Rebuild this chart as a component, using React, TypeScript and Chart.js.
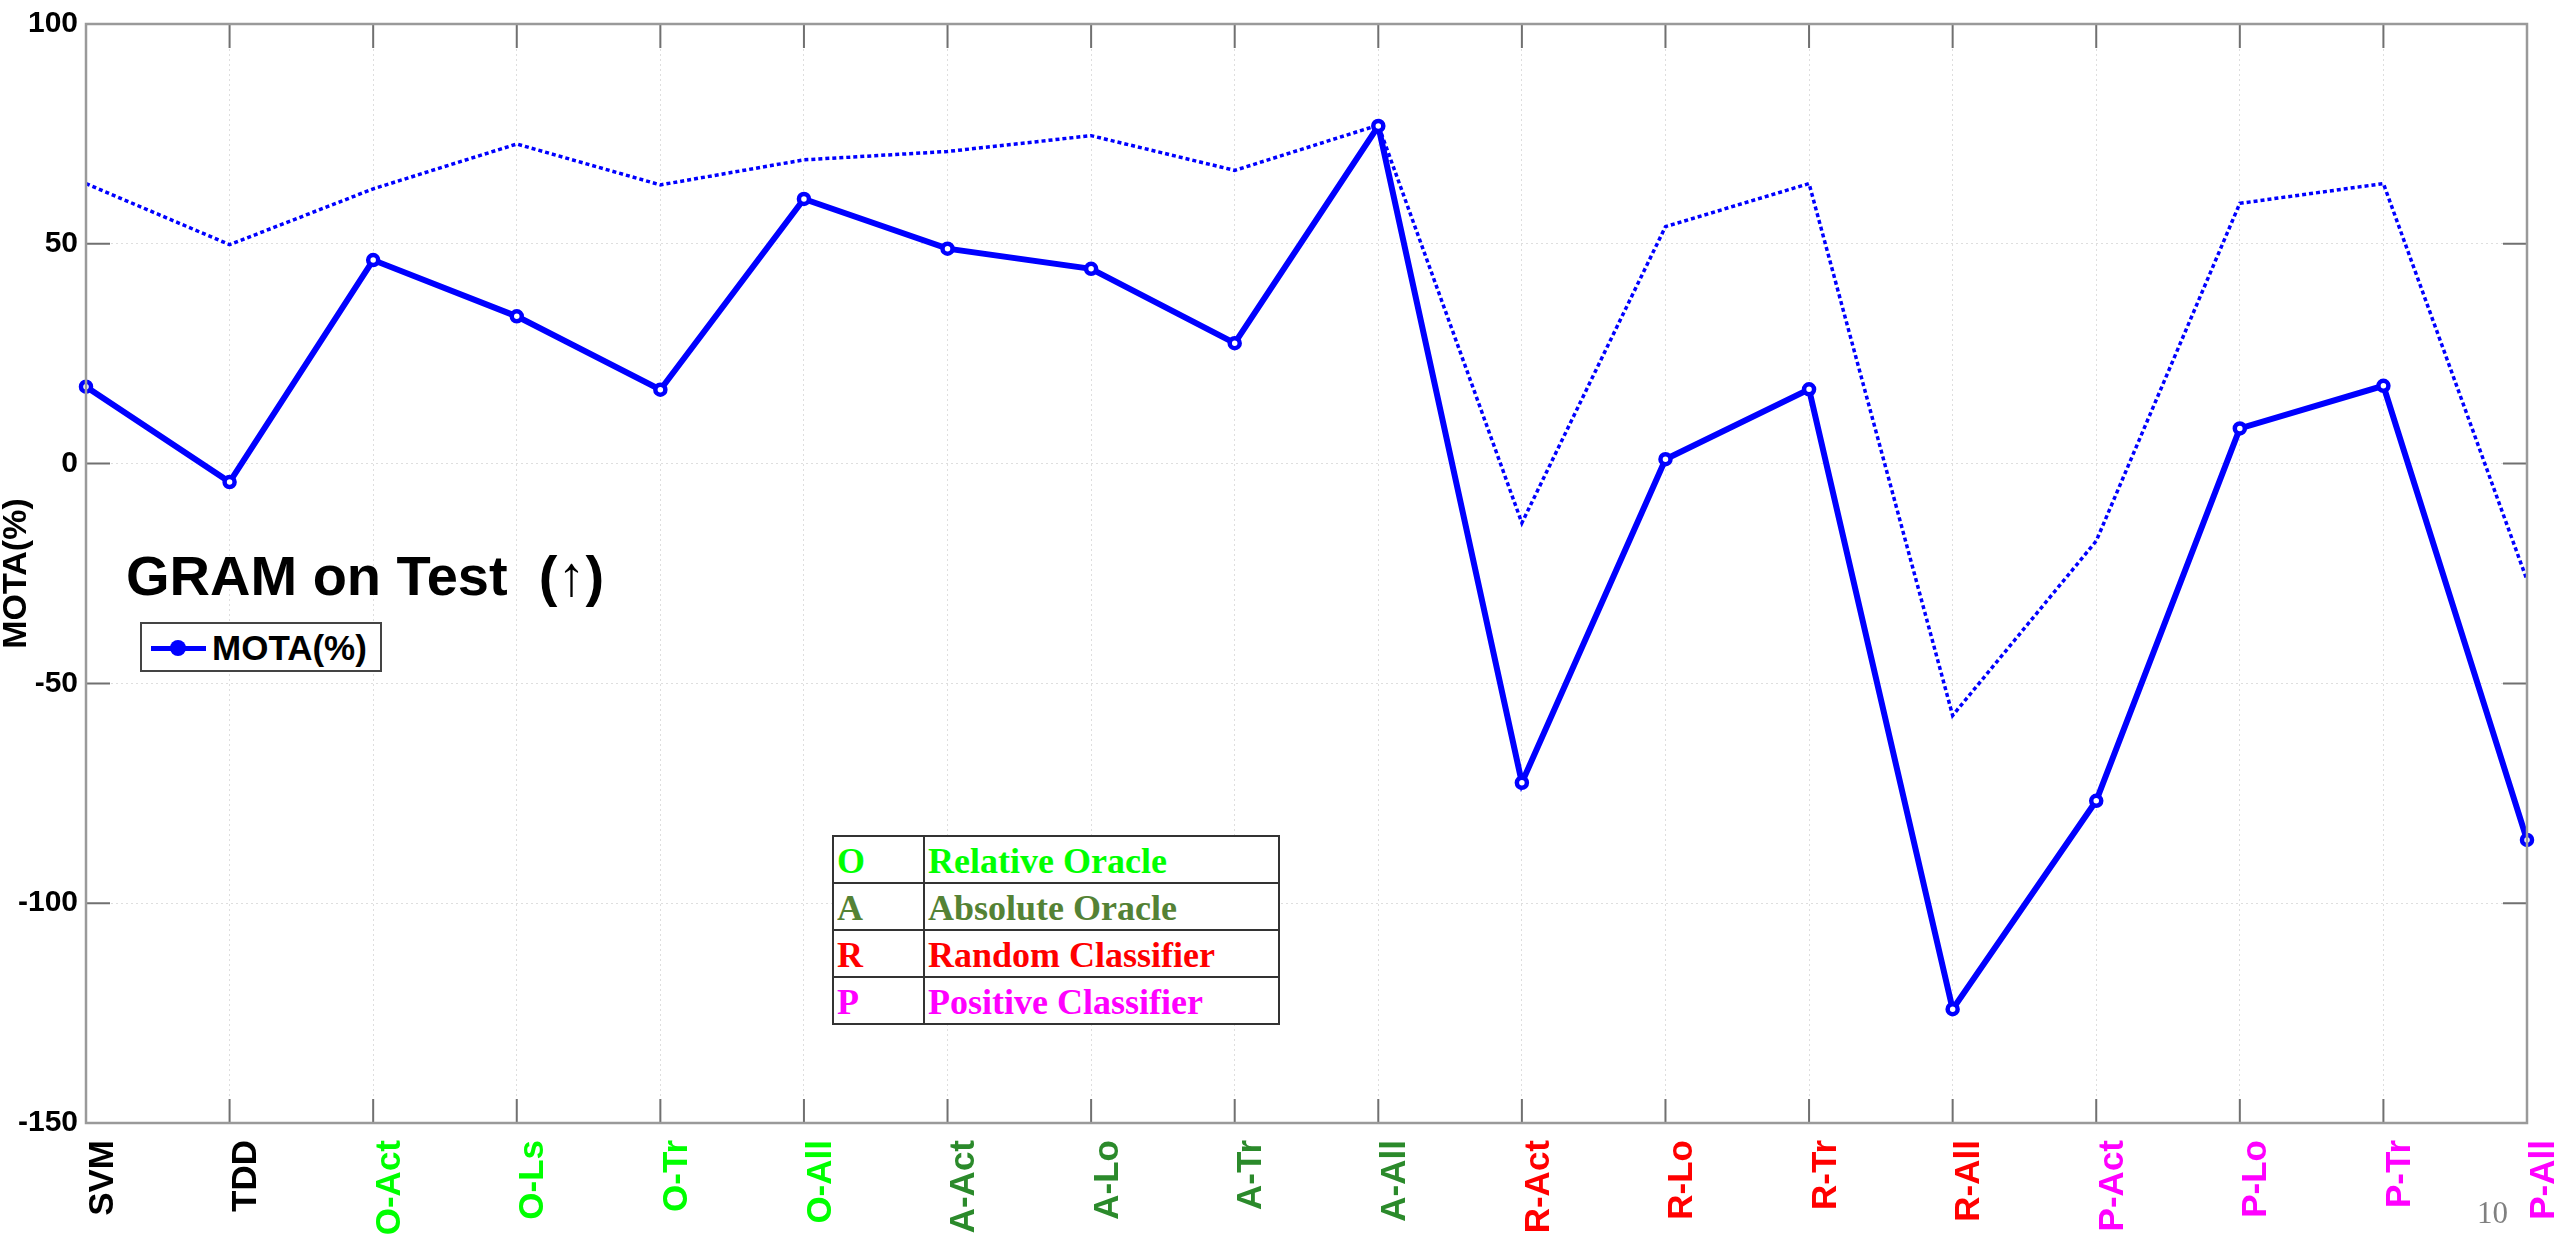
import React, { useEffect, useRef } from 'react';
import { Chart, registerables } from 'chart.js';

Chart.register(...registerables);

// ---------- data ----------
const categories = ['SVM', 'TDD', 'O-Act', 'O-Ls', 'O-Tr', 'O-All', 'A-Act', 'A-Lo', 'A-Tr', 'A-All', 'R-Act', 'R-Lo', 'R-Tr', 'R-All', 'P-Act', 'P-Lo', 'P-Tr', 'P-All'];
const motaValues = [17.5, -4.2, 46.3, 33.5, 16.8, 60.2, 48.9, 44.3, 27.4, 76.8, -72.6, 1.0, 16.9, -124.1, -76.7, 8.0, 17.7, -85.6];
const dottedValues = [63.7, 49.8, 62.5, 72.7, 63.4, 69.1, 71.0, 74.6, 66.7, 77.0, -13.5, 53.9, 63.7, -57.3, -17.6, 59.2, 63.7, -26.5];
const yTickValues = [100, 50, 0, -50, -100, -150];
const groupKeys = ['O', 'A', 'R', 'P'];
const groupNames = ['Relative Oracle', 'Absolute Oracle', 'Random Classifier', 'Positive Classifier'];

// ---------- styles ----------
const SANS = "'Liberation Sans', Arial, Helvetica, sans-serif";
const SERIF = "'Liberation Serif', 'Times New Roman', serif";
const labelColorByGroup: Record<string, string> = { O: '#00ff00', A: '#2b8a2b', R: '#ff0000', P: '#ff00ff' };
const tableColorByGroup: Record<string, string> = { O: '#00ff00', A: '#548235', R: '#ff0000', P: '#ff00ff' };
const colorForLabel = (lab: string) => labelColorByGroup[lab.charAt(0)] && lab.charAt(1) === '-' ? labelColorByGroup[lab.charAt(0)] : '#000000';

const framePlugin = {
  id: 'matlabFrame',
  afterDatasetsDraw(chart: any) {
    const { ctx, chartArea: a, scales } = chart;
    const xs = scales.x;
    const ys = scales.y;
    const len = 24;
    ctx.save();
    ctx.strokeStyle = '#707070';
    ctx.lineWidth = 2;
    ctx.beginPath();
    xs.ticks.forEach((_: any, i: number) => {
      const px = xs.getPixelForTick(i);
      ctx.moveTo(px, a.bottom);
      ctx.lineTo(px, a.bottom - len);
      ctx.moveTo(px, a.top);
      ctx.lineTo(px, a.top + len);
    });
    ys.ticks.forEach((_: any, i: number) => {
      const py = ys.getPixelForTick(i);
      ctx.moveTo(a.left, py);
      ctx.lineTo(a.left + len, py);
      ctx.moveTo(a.right, py);
      ctx.lineTo(a.right - len, py);
    });
    ctx.stroke();
    ctx.strokeStyle = '#9a9a9a';
    ctx.lineWidth = 2.5;
    ctx.strokeRect(a.left, a.top, a.right - a.left, a.bottom - a.top);
    ctx.restore();
  },
};

function ChartCanvas() {
  const ref = useRef<HTMLCanvasElement | null>(null);
  useEffect(() => {
    if (!ref.current) return;
    Chart.defaults.font.family = SANS;
    const chart = new Chart(ref.current, {
      type: 'line',
      data: {
        labels: categories,
        datasets: [
          {
            label: 'MOTA(%)',
            data: motaValues,
            borderColor: '#0000ff',
            backgroundColor: '#ffffff',
            borderWidth: 6,
            pointRadius: 5,
            pointBorderWidth: 4.5,
            pointBorderColor: '#0000ff',
            pointBackgroundColor: '#ffffff',
            tension: 0,
            clip: false,
          },
          {
            label: 'MOTA(%) dotted',
            data: dottedValues,
            borderColor: '#0000ff',
            borderWidth: 3.5,
            borderDash: [4, 3],
            pointRadius: 0,
            tension: 0,
            clip: false,
          },
        ],
      },
      options: {
        animation: false,
        responsive: true,
        maintainAspectRatio: false,
        layout: { padding: { left: 0, right: 33, top: 24, bottom: 0 } },
        plugins: { legend: { display: false }, tooltip: { enabled: false }, title: { display: false } },
        scales: {
          x: {
            type: 'category',
            offset: false,
            grid: { color: '#dedede', lineWidth: 1, drawTicks: false },
            border: { display: false, dash: [2, 3] },
            ticks: {
              autoSkip: false,
              minRotation: 90,
              maxRotation: 90,
              padding: 17,
              labelOffset: 17,
              font: { size: 35, weight: 'bold', family: SANS },
              color: (c: any) => colorForLabel(categories[c.index] || ''),
            },
            afterFit: (s: any) => {
              s.height = 117;
              s.paddingLeft = 0;
              s.paddingRight = 0;
            },
          },
          y: {
            type: 'linear',
            min: -150,
            max: 100,
            afterBuildTicks: (s: any) => {
              s.ticks = yTickValues.map((v) => ({ value: v }));
            },
            grid: { color: '#dedede', lineWidth: 1, drawTicks: false },
            border: { display: false, dash: [2, 3] },
            ticks: {
              padding: 8,
              color: '#000000',
              font: { size: 30, weight: 'bold', family: SANS },
            },
            title: {
              display: true,
              text: 'MOTA(%)',
              color: '#000000',
              font: { size: 34, weight: 'bold', family: SANS, lineHeight: 1 },
              padding: { top: 0, bottom: 0 },
            },
            afterFit: (s: any) => {
              s.width = 86;
              s.paddingTop = 0;
              s.paddingBottom = 0;
            },
          },
        },
      },
      plugins: [framePlugin],
    } as any);
    return () => chart.destroy();
  }, []);
  return <canvas ref={ref} />;
}

export default function App() {
  const cellBase: React.CSSProperties = {
    border: '2px solid #333',
    fontFamily: SERIF,
    fontWeight: 'bold',
    fontSize: 36,
    lineHeight: 1,
    padding: '6px 0 0 3px',
    verticalAlign: 'top',
    height: 39,
    whiteSpace: 'nowrap',
    boxSizing: 'content-box',
  };
  return (
    <div style={{ position: 'fixed', left: 0, top: 0, width: 2560, height: 1240, background: '#ffffff', overflow: 'hidden' }}>
      <div style={{ position: 'absolute', left: 0, top: 0, width: 2560, height: 1240 }}>
        <ChartCanvas />
      </div>
      {/* title */}
      <div style={{ position: 'absolute', left: 126, top: 548, fontFamily: SANS, fontWeight: 'bold', fontSize: 56, lineHeight: 1, whiteSpace: 'pre', color: '#000' }}>
        {'GRAM on Test  (↑)'}
      </div>
      {/* legend */}
      <div style={{ position: 'absolute', left: 140, top: 622, width: 242, height: 50, border: '2px solid #444', background: '#fff', boxSizing: 'border-box' }} />
      <div style={{ position: 'absolute', left: 151, top: 645.5, width: 55, height: 5, background: '#0000ff' }} />
      <div style={{ position: 'absolute', left: 170, top: 640, width: 16, height: 16, borderRadius: '50%', background: '#0000ff' }} />
      <div style={{ position: 'absolute', left: 212, top: 630, fontFamily: SANS, fontWeight: 'bold', fontSize: 35, lineHeight: 1, color: '#000', whiteSpace: 'pre' }}>
        MOTA(%)
      </div>
      {/* group table */}
      <table style={{ position: 'absolute', left: 832, top: 835, width: 448, borderCollapse: 'collapse', tableLayout: 'fixed', background: '#fff' }}>
        <colgroup>
          <col style={{ width: 91 }} />
          <col />
        </colgroup>
        <tbody>
          {groupKeys.map((k, i) => (
            <tr key={k}>
              <td style={{ ...cellBase, color: tableColorByGroup[k] }}>{k}</td>
              <td style={{ ...cellBase, color: tableColorByGroup[k] }}>{groupNames[i]}</td>
            </tr>
          ))}
        </tbody>
      </table>
      {/* page number */}
      <div style={{ position: 'absolute', left: 2477, top: 1197, fontFamily: SERIF, fontSize: 31, lineHeight: 1, color: '#808080' }}>10</div>
    </div>
  );
}
